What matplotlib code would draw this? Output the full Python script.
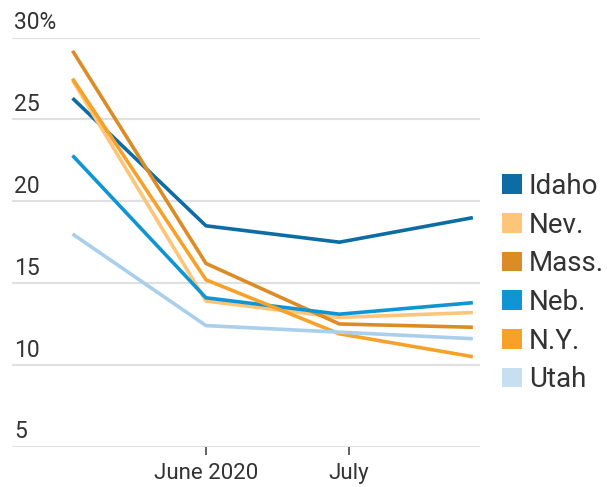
import matplotlib
matplotlib.use("Agg")
import matplotlib.pyplot as plt
from matplotlib.patches import Patch
from datetime import datetime, timedelta

plt.rcParams['font.family'] = ['Roboto', 'DejaVu Sans']

# data: four-week survey periods
dates = [datetime(2020, 5, 4), datetime(2020, 6, 1), datetime(2020, 6, 29), datetime(2020, 7, 27)]
states = ['Idaho', 'Nev.', 'Mass.', 'Neb.', 'N.Y.', 'Utah']
idaho = [26.3, 18.5, 17.5, 19.0]
nev = [27.4, 13.9, 12.9, 13.2]
mass = [29.2, 16.2, 12.5, 12.3]
neb = [22.8, 14.1, 13.1, 13.8]
ny = [27.5, 15.2, 11.9, 10.5]
utah = [18.0, 12.4, 12.0, 11.6]
series = [idaho, nev, mass, neb, ny, utah]
colors = ['#0c6ca3', '#fcc57a', '#dc8c24', '#0f95d3', '#f6a22a', '#a9cfec']
legend_colors = ['#0c6ca3', '#fcc57a', '#dc8c24', '#0f95d3', '#f6a22a', '#c8dff2']

y_ticks = [5, 10, 15, 20, 25, 30]
y_labels = ['5', '10', '15', '20', '25', '30%']
x_ticks = [datetime(2020, 6, 1), datetime(2020, 7, 1)]
x_labels = ['June 2020', 'July']

fig = plt.figure(figsize=(6.07, 4.87), dpi=100)
ax = fig.add_axes([0.0198, 0.0828, 0.7710, 0.8398])

for vals, c in zip(series, colors):
    ax.plot(dates, vals, color=c, linewidth=2.6, solid_capstyle='butt', clip_on=False, zorder=3)

june = datetime(2020, 6, 1)
ax.set_xlim(june - timedelta(days=40.7), june + timedelta(days=57.5))
ax.set_ylim(5, 30)

# grid
ax.set_yticks(y_ticks)
ax.yaxis.grid(True, color='#e0e0e0', linewidth=1.5)
ax.tick_params(axis='y', length=0, labelleft=False)
for v, lab in zip(y_ticks, y_labels):
    ax.text(0.005, v + 0.2, lab, transform=ax.get_yaxis_transform(),
            ha='left', va='bottom', fontsize=16.5, color='#333333')

ax.set_xticks(x_ticks)
ax.set_xticklabels(x_labels, fontsize=16, color='#333333')
ax.tick_params(axis='x', length=6, width=1.3, color='#555555', pad=6)

for s in ax.spines.values():
    s.set_visible(False)

handles = [Patch(facecolor=c, edgecolor='none') for c in legend_colors]
ax.legend(handles, states, loc='center left', bbox_to_anchor=(1.048, 0.40),
          frameon=False, fontsize=20, handlelength=0.7, handleheight=0.7,
          handletextpad=0.25, labelspacing=0.42, borderaxespad=0, borderpad=0,
          labelcolor='#333333')

plt.savefig('out.png', dpi=100)
